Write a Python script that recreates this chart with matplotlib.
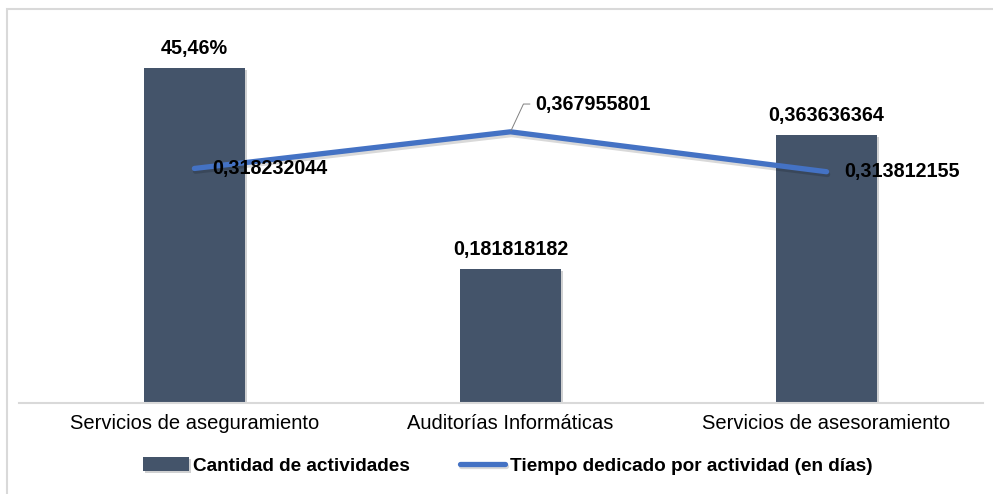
import matplotlib.pyplot as plt
import matplotlib.patheffects as pe
from matplotlib.patches import Rectangle

categorias = ["Servicios de aseguramiento", "Auditorías Informáticas", "Servicios de asesoramiento"]
cantidad = [0.4546, 0.181818182, 0.363636364]
tiempo = [0.318232044, 0.367955801, 0.313812155]
etiquetas_cantidad = ["45,46%", "0,181818182", "0,363636364"]
etiquetas_tiempo = ["0,318232044", "0,367955801", "0,313812155"]

BAR_COLOR = "#44546A"
LINE_COLOR = "#4472C4"

plt.rcParams['font.family'] = ['Liberation Sans', 'DejaVu Sans']

fig = plt.figure(figsize=(9.93, 4.94), dpi=100)
ax = fig.add_axes([19 / 993, 1 - 403 / 494, (983 - 19) / 993, 368.5 / 494])

# marco gris alrededor del grafico
fig.patches.append(Rectangle((7 / 993, -0.1), 1.2, 1 - 9 / 494 + 0.1, transform=fig.transFigure,
                             fill=False, edgecolor="#d9d9d9", linewidth=1.5, zorder=0))

x = range(len(categorias))
shadow = [pe.SimplePatchShadow(offset=(1.5, -1.5), alpha=0.2), pe.Normal()]
ax.bar(x, cantidad, width=0.32, color=BAR_COLOR, zorder=2, path_effects=shadow,
       label="Cantidad de actividades")
ax.plot(x, tiempo, color=LINE_COLOR, linewidth=3.8, solid_capstyle="round", zorder=3,
        path_effects=[pe.SimpleLineShadow(offset=(0.8, -2), alpha=0.15), pe.Normal()],
        label="Tiempo dedicado por actividad (en días)")

for i, (v, t) in enumerate(zip(cantidad, etiquetas_cantidad)):
    ax.annotate(t, (i, v), xytext=(0, 7), textcoords="offset points", ha="center", va="bottom",
                fontsize=14.2, fontweight="bold", zorder=5)

for i, (v, t) in enumerate(zip(tiempo, etiquetas_tiempo)):
    if i == 1:
        ax.annotate(t, (i, v), xytext=(18, 20), textcoords="offset points", ha="left", va="center",
                    fontsize=14.2, fontweight="bold", zorder=5,
                    arrowprops=dict(arrowstyle="-", color="#808080", lw=0.7,
                                    connectionstyle="angle,angleA=0,angleB=65,rad=0",
                                    shrinkA=2, shrinkB=1))
    else:
        ax.annotate(t, (i, v), xytext=(13, 0), textcoords="offset points", ha="left", va="center",
                    fontsize=14.2, fontweight="bold", zorder=5)

ax.set_xlim(-0.555, 2.495)
ax.set_ylim(0, 0.5)
ax.set_xticks(list(x))
ax.set_xticklabels(categorias, fontsize=14.5)
ax.tick_params(axis="x", length=0, pad=8)
ax.set_yticks([])
for s in ["top", "right", "left"]:
    ax.spines[s].set_visible(False)
ax.spines["bottom"].set_color("#d9d9d9")
ax.spines["bottom"].set_linewidth(1.5)

handles, labels = ax.get_legend_handles_labels()
order = [labels.index("Cantidad de actividades"), labels.index("Tiempo dedicado por actividad (en días)")]
ax.legend([handles[k] for k in order], [labels[k] for k in order],
          loc="center", bbox_to_anchor=(0.507, -0.17), ncol=2, frameon=False,
          prop={"size": 13.7, "weight": "bold"}, handlelength=2.4, handleheight=0.8,
          handletextpad=0.25, columnspacing=2.6)

fig.savefig("out.png", dpi=100)
